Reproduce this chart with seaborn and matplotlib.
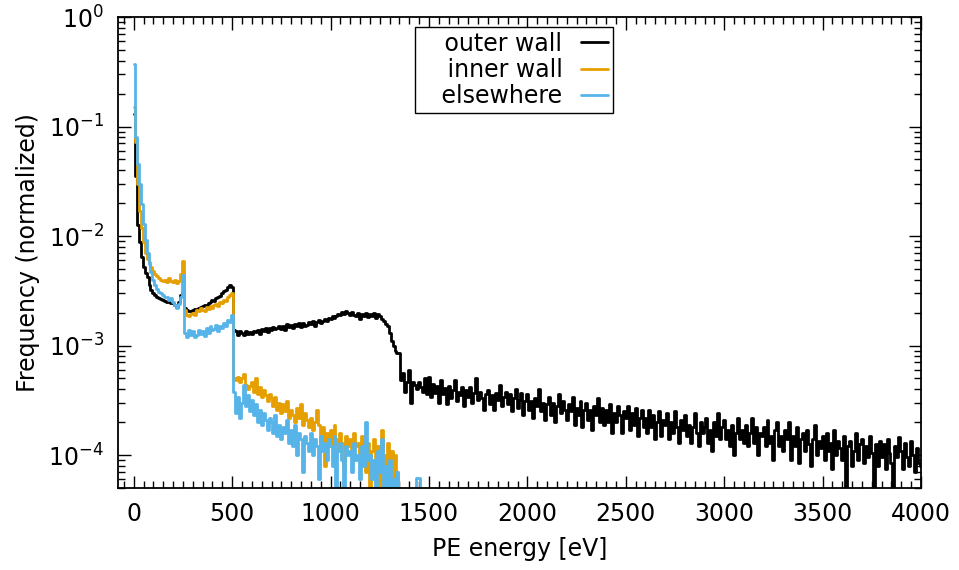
import numpy as np
import pandas as pd
import matplotlib
matplotlib.use("Agg")
import matplotlib.pyplot as plt
import seaborn as sns
from matplotlib.ticker import MultipleLocator, LogLocator, NullFormatter

# ---------------- data (histogram, 10 eV bins starting at 0 eV; values in units of 1e-4) ----------------
BIN_WIDTH_EV = 10
VALUE_UNIT = 1e-4

outer_wall = [
    1300, 350, 125, 89, 64, 52, 46, 42, 36, 32,
    30, 29, 28, 27, 26.5, 26, 25.5, 25, 25.5, 24.5,
    24.5, 23.5, 22.5, 25, 29, 31, 22, 21, 20.5, 20.5,
    21, 21.5, 21, 22, 22.5, 23, 23.5, 23, 24.5, 25,
    26, 25.5, 27, 28, 28.5, 30, 31.5, 32, 34, 36,
    34, 14, 13.5, 12.5, 13.5, 13, 12.5, 13.5, 12.8, 13.2,
    12.8, 13.6, 13.4, 14, 12.8, 14.2, 13.5, 14.6, 13.2, 14.4,
    14, 14.8, 14.2, 14.5, 15.2, 14.3, 15, 14, 15.6, 14.8,
    15.4, 14.6, 15.8, 15, 16.2, 14.8, 16, 15.2, 15.5, 16.4,
    15.6, 16.8, 15.2, 16.5, 17.2, 16, 16.8, 17.5, 16.6, 18,
    17.4, 18.5, 17.8, 18.8, 19.5, 19, 20.2, 19.4, 20.5, 19.8,
    19.2, 20.2, 19, 18.6, 19.8, 17.6, 19.4, 18.8, 20, 18.2,
    19.6, 18.8, 20, 17.8, 19.4, 18.5, 17.6, 16.6, 15.8, 15,
    13, 11, 10, 9, 8.6, 8.5, 4.8, 5.6, 3.8, 4.6,
    6.0, 3.0, 4.6, 4.4, 4.0, 4.6, 4.2, 3.8, 5.0, 3.6,
    5.2, 3.4, 4.5, 3.7, 4.3, 3.0, 4.8, 3.6, 4.1, 2.9,
    4.3, 3.3, 3.9, 4.8, 3.1, 3.8, 3.5, 4.2, 2.8, 3.9,
    3.4, 4.2, 3.0, 3.7, 5.0, 3.2, 3.8, 3.3, 2.6, 3.6,
    3.9, 2.9, 3.5, 2.6, 3.7, 3.2, 4.4, 2.8, 3.4, 3.8,
    2.9, 3.6, 2.5, 3.3, 4.0, 2.7, 3.2, 3.7, 2.3, 3.1,
    3.6, 2.6, 3.1, 2.2, 3.3, 2.8, 4.0, 2.5, 3.0, 2.1,
    2.9, 3.4, 2.3, 3.0, 2.0, 2.8, 3.6, 2.4, 3.1, 2.6,
    2.1, 2.9, 2.5, 3.4, 1.9, 2.7, 2.3, 3.1, 1.8, 2.6,
    3.0, 2.1, 2.6, 1.7, 2.8, 2.3, 3.3, 2.0, 2.7, 1.9,
    2.6, 2.0, 2.9, 1.6, 2.4, 2.0, 2.8, 2.3, 1.6, 2.5,
    2.2, 2.8, 1.7, 2.4, 1.9, 2.7, 1.5, 2.2, 2.6, 1.8,
    2.2, 1.6, 2.6, 1.8, 2.3, 1.4, 2.0, 2.5, 1.5, 2.1,
    1.9, 2.4, 1.4, 2.0, 1.6, 2.5, 1.8, 1.3, 2.1, 1.7,
    2.3, 1.5, 1.9, 1.3, 1.8, 2.4, 1.6, 1.2, 2.0, 1.6,
    1.8, 2.2, 1.3, 1.7, 1.1, 2.0, 1.5, 2.4, 1.4, 1.8,
    2.1, 1.4, 1.7, 1.2, 1.9, 1.0, 1.6, 2.2, 1.4, 1.7,
    1.3, 1.9, 1.2, 1.6, 2.2, 1.3, 1.8, 1.0, 1.6, 1.5,
    1.8, 1.2, 2.1, 1.3, 1.5, 0.9, 1.7, 2.0, 1.2, 1.5,
    1.1, 1.7, 1.4, 2.0, 0.9, 1.5, 1.2, 1.8, 0.85, 1.4,
    1.6, 1.1, 1.7, 1.25, 0.8, 1.4, 1.9, 1.0, 1.35, 1.15,
    1.5, 0.9, 1.6, 1.1, 1.3, 0.75, 1.7, 1.0, 1.35, 1.15,
    0.9, 1.5, 0, 1.2, 1.35, 0.8, 1.1, 1.6, 0.9, 1.25,
    1.4, 0.85, 1.2, 0.95, 1.5, 1.05, 0, 1.25, 0.8, 1.35,
    0.95, 1.25, 0.75, 1.4, 1.05, 0.85, 0, 1.2, 0.95, 1.45,
    1.1, 0.75, 1.3, 0.95, 0.8, 1.35, 1.0, 0.7, 1.15, 0.85,
    0.8,
]

inner_wall = [
    1500, 720, 300, 170, 118, 89, 70, 62, 58, 52,
    48, 45, 43, 41, 40, 39, 40, 38, 41, 39,
    38, 40, 37, 39, 45, 59, 21, 19, 18.5, 19.5,
    20, 19, 21, 20.5, 22, 21, 20.5, 22.5, 21.5, 23,
    22, 23.5, 24, 23, 25, 24.5, 26, 25.5, 27.5, 29,
    30, 5.0, 4.8, 5.2, 4.6, 5.0, 5.5, 4.4, 4.0, 4.3,
    4.6, 3.8, 5.1, 3.6, 4.2, 3.4, 3.9, 3.5, 3.1, 3.6,
    3.3, 2.8, 3.4, 2.6, 3.0, 2.4, 2.9, 2.5, 3.1, 2.2,
    2.6, 2.3, 2.0, 2.7, 2.2, 2.9, 1.9, 2.4, 2.1, 1.8,
    2.2, 1.7, 2.0, 2.6, 1.9, 1.3, 1.8, 0.8, 1.6, 1.4,
    1.7, 1.2, 1.9, 1.4, 1.1, 1.6, 1.3, 0.75, 1.5, 1.2,
    1.4, 1.0, 1.6, 1.2, 1.3, 0.9, 1.5, 1.1, 0.7, 1.3,
    0, 1.1, 1.4, 0.9, 1.2, 0, 1.7, 1.0, 0, 1.3,
    0.8, 1.1, 0, 1.0, 0.7, 0,
]

elsewhere = [
    3700, 800, 450, 300, 195, 130, 92, 70, 55, 47,
    40, 36, 33, 31, 30, 29, 28, 27.5, 26, 27,
    25, 23.5, 22, 24, 28, 44, 13, 12, 14, 12.5,
    13.5, 12, 12.5, 14, 12.8, 13.5, 12.2, 14.5, 13, 15,
    13.8, 14.2, 15.5, 13.6, 15, 14.4, 16, 15.2, 17, 16.5,
    19, 3.8, 2.4, 3.4, 2.2, 3.0, 4.4, 2.8, 3.5, 2.5,
    3.2, 2.3, 2.9, 2.0, 2.6, 1.9, 2.4, 2.1, 1.7, 2.2,
    2.0, 1.6, 2.3, 1.5, 1.9, 1.4, 1.8, 1.6, 2.1, 1.3,
    1.7, 1.2, 1.9, 1.0, 1.6, 1.4, 0.7, 1.5, 1.3, 1.1,
    1.6, 1.0, 1.4, 1.2, 0.6, 1.5, 1.1, 1.3, 0.9, 1.4,
    1.2, 0.8, 1.5, 0, 1.1, 1.3, 0.9, 0, 1.2, 1.0,
    1.1, 0.7, 1.3, 0.9, 1.0, 0.6, 1.2, 0.8, 2.0, 0.9,
    1.0, 0.6, 0.9, 0, 1.1, 0.7, 1.4, 0, 0.8, 0.5,
    0.9, 0, 0.6, 0, 0.7, 0, 0, 0, 0, 0,
    0, 0, 0, 0, 0.62, 0.62, 0,
]

series_names = ["outer wall", "inner wall", "elsewhere"]
series_colors = ["#000000", "#E69F00", "#56B4E9"]
x_tick_values = [0, 500, 1000, 1500, 2000, 2500, 3000, 3500, 4000]

frames = []
for name, vals in zip(series_names, [outer_wall, inner_wall, elsewhere]):
    v = np.asarray(vals, dtype=float) * VALUE_UNIT
    e = np.arange(len(v)) * BIN_WIDTH_EV
    frames.append(pd.DataFrame({"energy": e, "freq": v, "region": name}))
df = pd.concat(frames, ignore_index=True)

# ---------------- style ----------------
sns.set_theme(style="ticks")
plt.rcParams["font.family"] = ["DejaVu Sans"]
plt.rcParams["mathtext.default"] = "regular"
for k in ["text.color", "axes.labelcolor", "xtick.color", "ytick.color", "axes.edgecolor"]:
    plt.rcParams[k] = "black"

FS = 17
LW = 2.0
fig = plt.figure(figsize=(9.59, 5.70), dpi=100)
ax = fig.add_axes([118 / 959, 1 - 488 / 570, (921 - 118) / 959, (488 - 17) / 570])

sns.lineplot(
    data=df, x="energy", y="freq", hue="region",
    hue_order=series_names, palette=dict(zip(series_names, series_colors)),
    estimator=None, sort=False, drawstyle="steps-mid", linewidth=LW,
    ax=ax, legend=True,
)
ax.set_yscale("log")
ax.set_xlim(-80, 4000)
ax.set_ylim(5e-5, 1)

ax.xaxis.set_major_locator(MultipleLocator(500))
ax.xaxis.set_minor_locator(MultipleLocator(50))
ax.set_xticks(x_tick_values)
ax.yaxis.set_major_locator(LogLocator(base=10, numticks=10))
ax.yaxis.set_minor_locator(LogLocator(base=10, subs=np.arange(2, 10), numticks=20))
ax.yaxis.set_minor_formatter(NullFormatter())

ax.tick_params(which="both", direction="in", top=True, right=True, labelsize=FS)
ax.tick_params(which="major", length=9, width=1.0, pad=10)
ax.tick_params(which="minor", length=5, width=1.0)
for s in ax.spines.values():
    s.set_linewidth(1.3)
    s.set_color("black")

ax.set_xlabel("PE energy [eV]", fontsize=FS, labelpad=8)
ax.set_ylabel("Frequency (normalized)", fontsize=FS, labelpad=6)

handles, labels = ax.get_legend_handles_labels()
pairs = [(h, l) for h, l in zip(handles, labels) if l in series_names]
leg = ax.legend(
    [p[0] for p in pairs], ["   " + p[1] for p in pairs],
    loc="upper center", bbox_to_anchor=(0.493, 1.0), borderaxespad=0.42,
    markerfirst=False, fontsize=FS, frameon=True, fancybox=False,
    edgecolor="black", framealpha=1, handlelength=1.15, handletextpad=0.8,
    labelspacing=0.1, borderpad=0.2,
)
leg.get_frame().set_linewidth(1.0)
for line in leg.get_lines():
    line.set_linewidth(LW)

fig.savefig("out.png", dpi=100)
